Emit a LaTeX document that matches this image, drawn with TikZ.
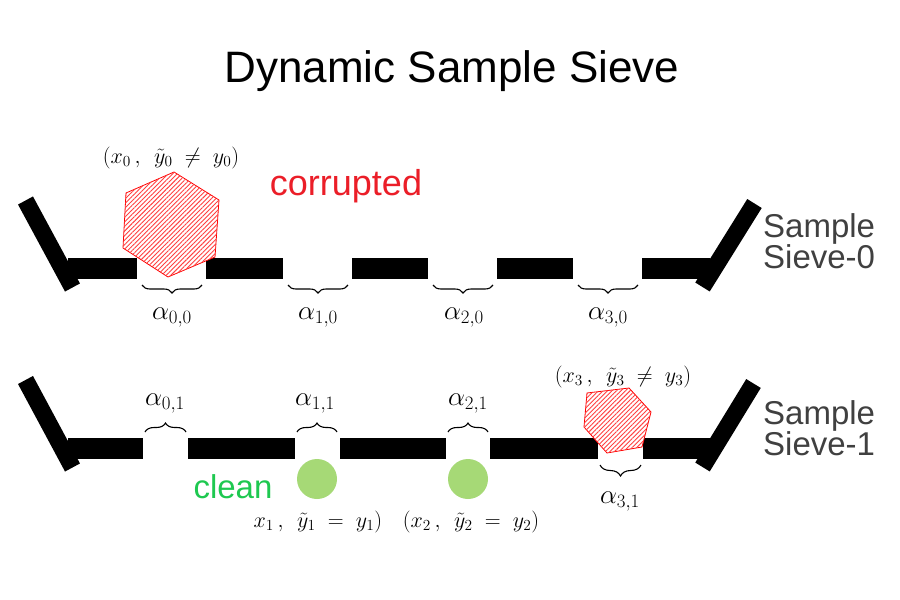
\RequirePackage{fix-cm}
\documentclass[tikz,border=0pt]{standalone}
\usepackage{fontspec}
\newfontfamily\sansf{Liberation Sans}
\usetikzlibrary{patterns.meta,decorations.pathreplacing}
\definecolor{labgray}{RGB}{64,64,64}
\definecolor{cleangreen}{RGB}{30,200,80}
\definecolor{corred}{RGB}{235,30,40}
\definecolor{ballgreen}{RGB}{166,217,118}
\tikzset{
  bar/.style={fill=black},
  arm/.style={line width=17pt, draw=black},
  hatch/.style={draw=red, line width=0.8pt, fill=white, postaction={pattern={Lines[angle=45,distance=3.2pt,line width=0.9pt]}, pattern color=red!75}},
  ball/.style={circle, fill=ballgreen, minimum size=40pt, inner sep=0pt},
  bup/.style={decorate, decoration={brace, amplitude=9pt}, line width=1.1pt},
  bdown/.style={decorate, decoration={brace, amplitude=8pt, mirror}, line width=1.1pt},
  alab/.style={anchor=base, inner sep=0pt, font=\fontsize{27}{30}\selectfont},
  tlab/.style={anchor=base, inner sep=0pt, font=\fontsize{22}{26}\selectfont},
  slab/.style={anchor=base west, inner sep=0pt, text=labgray, font=\sansf\fontsize{33}{36}\selectfont},
}
\begin{document}
\begin{tikzpicture}[x=1pt,y=-1pt]
\useasboundingbox (0,0) rectangle (900,600);
% title
\node[anchor=base, inner sep=0pt, font=\sansf\fontsize{44}{50}\selectfont] (title) at (452,82) {Dynamic Sample Sieve};

% ---- Sieve 0 ----
\fill[bar] (68,258) rectangle (137,279);
\fill[bar] (206,258) rectangle (283,279);
\fill[bar] (352,258) rectangle (428,279);
\fill[bar] (497,258) rectangle (573,279);
\fill[bar] (642,258) rectangle (710,279);
\draw[arm] (72.5,287.5) -- (25.5,200.5);
\draw[arm] (702.5,287) -- (754.5,203.5);

\draw[hatch] (174,172) -- (219,200) -- (215,257) -- (168,277) -- (123,248) -- (126,193) -- cycle;

\coordinate (g00a) at (142,285); \coordinate (g00b) at (202,285);
\coordinate (g10a) at (288,285); \coordinate (g10b) at (348,285);
\coordinate (g20a) at (433,285); \coordinate (g20b) at (493,285);
\coordinate (g30a) at (578,285); \coordinate (g30b) at (638,285);
\draw[bdown] (g00a) -- (g00b);
\draw[bdown] (g10a) -- (g10b);
\draw[bdown] (g20a) -- (g20b);
\draw[bdown] (g30a) -- (g30b);
\node[alab] (a00) at (172,319) {$\alpha_{0,0}$};
\node[alab] (a10) at (318,319) {$\alpha_{1,0}$};
\node[alab] (a20) at (464,319) {$\alpha_{2,0}$};
\node[alab] (a30) at (608,319) {$\alpha_{3,0}$};

\node[tlab] (t0) at (171,163) {$(x_0\,,\;\,\tilde{y}_0\;\neq\;y_0)$};
\node[anchor=base, inner sep=0pt, text=corred, font=\sansf\fontsize{36}{40}\selectfont] (corr) at (346,195) {corrupted};
\node[slab] (s0a) at (763,237) {Sample};
\node[slab] (s0b) at (763,268) {Sieve-0};

% ---- Sieve 1 ----
\fill[bar] (68,438) rectangle (143,459);
\fill[bar] (188,438) rectangle (295,459);
\fill[bar] (340,438) rectangle (446,459);
\fill[bar] (490,438) rectangle (598,459);
\fill[bar] (643,438) rectangle (710,459);
\draw[arm] (72.5,467.5) -- (25.5,380);
\draw[arm] (702.5,467) -- (753.5,383.5);

\draw[hatch] (587,393) -- (629,388) -- (651,412) -- (642,447) -- (607,453) -- (584,427) -- cycle;

\node[ball] (b1) at (317,479) {};
\node[ball] (b2) at (468,479) {};

\coordinate (g01a) at (145,432); \coordinate (g01b) at (186,432);
\coordinate (g11a) at (297,432); \coordinate (g11b) at (337,432);
\coordinate (g21a) at (448,432); \coordinate (g21b) at (488,432);
\coordinate (g31a) at (600,465); \coordinate (g31b) at (641,465);
\draw[bup] (g01a) -- (g01b);
\draw[bup] (g11a) -- (g11b);
\draw[bup] (g21a) -- (g21b);
\draw[bdown, decoration={amplitude=11pt}] (g31a) -- (g31b);
\node[alab] (a01) at (165,405) {$\alpha_{0,1}$};
\node[alab] (a11) at (315,405) {$\alpha_{1,1}$};
\node[alab] (a21) at (468,405) {$\alpha_{2,1}$};
\node[alab] (a31) at (620,503) {$\alpha_{3,1}$};

\node[tlab] (t3) at (623,382) {$(x_3\,,\;\,\tilde{y}_3\;\neq\;y_3)$};
\node[tlab] (t1) at (318,527) {$x_1\,,\;\,\tilde{y}_1\;=\;y_1)$};
\node[tlab] (t2) at (471,527) {$(x_2\,,\;\,\tilde{y}_2\;=\;y_2)$};
\node[anchor=base, inner sep=0pt, text=cleangreen, font=\sansf\fontsize{33}{38}\selectfont] (clean) at (233,498) {clean};
\node[slab] (s1a) at (763,424) {Sample};
\node[slab] (s1b) at (763,455) {Sieve-1};
\end{tikzpicture}
\end{document}
